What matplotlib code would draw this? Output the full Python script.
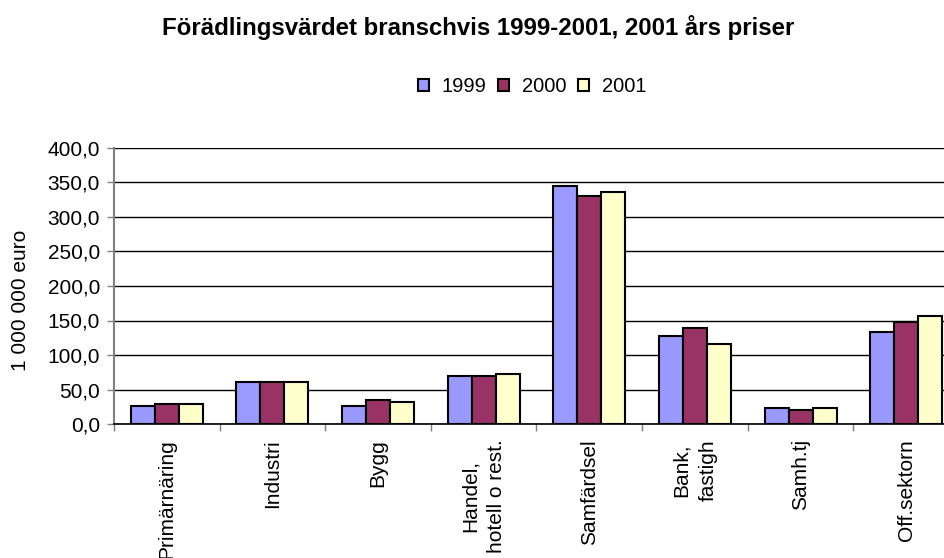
import numpy as np
import matplotlib.pyplot as plt
from matplotlib.ticker import FixedLocator, FuncFormatter

plt.rcParams['font.family'] = ['Liberation Sans', 'DejaVu Sans']

# Data
branscher = ["Primärnäring", "Industri", "Bygg", "Handel,\nhotell o rest.",
             "Samfärdsel", "Bank,\nfastigh", "Samh.tj", "Off.sektorn"]
v1999 = [25.5, 61.0, 25.5, 69.0, 344.5, 127.0, 23.0, 133.0]
v2000 = [29.0, 61.0, 35.0, 69.0, 330.0, 138.5, 20.0, 148.0]
v2001 = [29.0, 61.0, 31.5, 72.0, 336.0, 116.0, 23.0, 156.0]
years = ["1999", "2000", "2001"]
colors = ["#9999FF", "#993366", "#FFFFCC"]

fig = plt.figure(figsize=(9.45, 5.58), dpi=100)
W, H = 945, 558
# axes spans a bit past the right edge, like the original (clipped)
ax = fig.add_axes([114 / W, 1 - 424 / H, 845 / W, 276 / H])

x = np.arange(len(branscher))
w = 0.227
for i, (vals, lab, c) in enumerate(zip([v1999, v2000, v2001], years, colors)):
    ax.bar(x + (i - 1) * w, vals, w, color=c, edgecolor="black", linewidth=1.5,
           label=lab, zorder=3)

ax.set_xlim(-0.5, len(branscher) - 0.5)
ax.set_ylim(0, 400)
ax.set_yticks(np.arange(0, 401, 50))
ax.yaxis.set_major_formatter(FuncFormatter(lambda v, p: f"{v:.1f}".replace(".", ",")))
ax.grid(axis="y", color="black", linewidth=1.0, zorder=0)

ax.set_xticks(x)
ax.set_xticklabels(branscher, rotation=90, va="top", ha="center",
                   multialignment="center", fontsize=15, linespacing=1.5)
ax.xaxis.set_minor_locator(FixedLocator(np.arange(-0.5, len(branscher), 1.0)))
ax.tick_params(axis="x", which="major", length=0, pad=11)
ax.tick_params(axis="x", which="minor", length=5, width=1, color="#808080", direction="out")
ax.tick_params(axis="y", length=5, width=1, color="#808080", labelsize=15, pad=5)

for s in ["top", "right"]:
    ax.spines[s].set_visible(False)
ax.spines["left"].set_color("#808080")
ax.spines["left"].set_linewidth(1.5)
ax.spines["bottom"].set_color("black")
ax.spines["bottom"].set_linewidth(1.2)

fig.text(21 / W, 1 - 300 / H, "1 000 000 euro", rotation=90, ha="center", va="center", fontsize=15)
fig.text(478 / W, 1 - 28 / H, "Förädlingsvärdet branschvis 1999-2001, 2001 års priser",
         ha="center", va="center", fontsize=17.3, fontweight="bold")

leg = fig.legend(loc="center", bbox_to_anchor=(532 / W, 1 - 87 / H), ncol=3, frameon=False,
                 fontsize=14.5, handlelength=0.55, handleheight=0.55, handletextpad=0.65,
                 columnspacing=0.55, borderpad=0.2)
for p in leg.get_patches():
    p.set_linewidth(1.5)

fig.savefig("out.png", dpi=100)
